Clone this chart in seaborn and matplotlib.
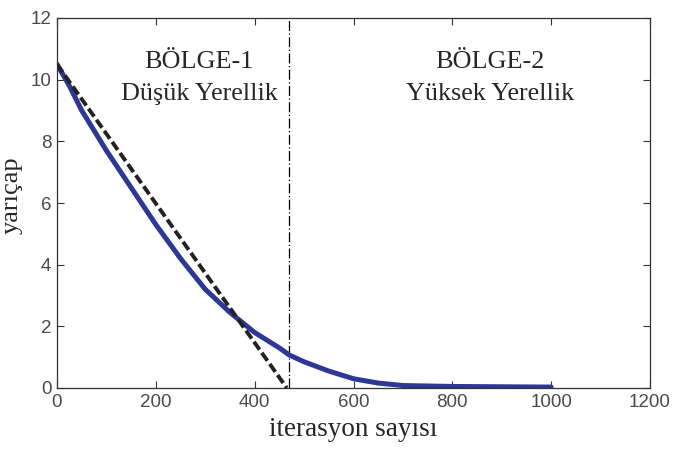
import numpy as np
import pandas as pd
import matplotlib
matplotlib.use('Agg')
import matplotlib.pyplot as plt
import seaborn as sns

# blue curve: radius over iterations
iter_x = [0, 25, 50, 100, 150, 200, 250, 300, 350, 400, 450, 470, 500, 550, 600, 650, 700, 800, 900, 1000]
radius_y = [10.5, 9.8, 9.0, 7.7, 6.5, 5.3, 4.2, 3.2, 2.45, 1.8, 1.3, 1.07, 0.85, 0.55, 0.3, 0.16, 0.08, 0.05, 0.04, 0.03]

# dashed linear reference
lin_x = [0, 465]
lin_y = [10.5, 0]

region_split = 470
x_ticks = [0, 200, 400, 600, 800, 1000, 1200]
y_ticks = [0, 2, 4, 6, 8, 10, 12]

sns.set_style('ticks')
plt.rcParams['font.family'] = ['Liberation Serif', 'DejaVu Serif']

fig = plt.figure(figsize=(6.73, 4.51), dpi=100)
ax = fig.add_axes([57 / 673, 1 - 388 / 451, 593 / 673, 370 / 451])

curve = pd.DataFrame({'x': iter_x, 'y': radius_y})
lin = pd.DataFrame({'x': lin_x, 'y': lin_y})

ax.axvline(region_split, color='black', lw=0.9, ls=(0, (8, 2, 1, 2)), zorder=1)
sns.lineplot(data=curve, x='x', y='y', ax=ax, color='#2d3796', lw=3.6, zorder=2)
sns.lineplot(data=lin, x='x', y='y', ax=ax, color='#222222', lw=2.8, ls=(0, (2.5, 1.0)), zorder=3)

ax.set_xlim(0, 1200)
ax.set_ylim(0, 12)
ax.set_xticks(x_ticks)
ax.set_yticks(y_ticks)
ax.tick_params(direction='in', top=True, right=True, length=5, width=0.8,
               colors='#333333', labelsize=13.5, pad=4)
for lab in ax.get_xticklabels() + ax.get_yticklabels():
    lab.set_family('Liberation Sans')
    lab.set_color('#4a4a4a')
for sp in ax.spines.values():
    sp.set_color('#333333')
    sp.set_linewidth(0.9)

ax.set_xlabel('iterasyon sayısı', fontsize=19.5, labelpad=5)
ax.set_ylabel('yarıçap', fontsize=19)
ax.yaxis.set_label_coords(-0.058, 0.52)

ax.text(288, 10.57, 'BÖLGE-1', ha='center', va='center', fontsize=18.8)
ax.text(288, 9.55, 'Düşük Yerellik', ha='center', va='center', fontsize=18.8)
ax.text(876, 10.57, 'BÖLGE-2', ha='center', va='center', fontsize=18.8)
ax.text(876, 9.55, 'Yüksek Yerellik', ha='center', va='center', fontsize=18.8)

fig.savefig('out.png', dpi=100)
